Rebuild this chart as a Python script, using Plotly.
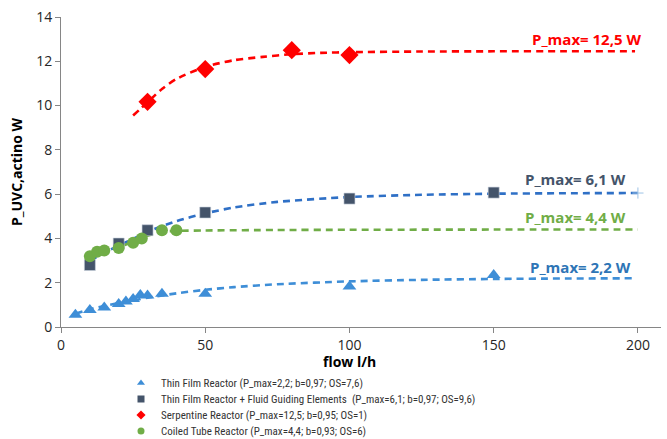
import plotly.graph_objects as go

# ---- measured data ----
thin_x = [5, 10, 15, 20, 22.5, 25, 27.5, 30, 35, 50, 100, 150]
thin_y = [0.55, 0.77, 0.88, 1.04, 1.15, 1.27, 1.45, 1.42, 1.5, 1.5, 1.83, 2.35]

fge_x = [10, 20, 30, 50, 100, 150]
fge_y = [2.8, 3.77, 4.37, 5.17, 5.8, 6.07]

serp_x = [30, 50, 80, 100]
serp_y = [10.17, 11.65, 12.5, 12.28]

coil_x = [10, 12.5, 15, 20, 25, 28, 35, 40]
coil_y = [3.2, 3.4, 3.45, 3.57, 3.8, 4.0, 4.37, 4.37]

# trend lines
thin_fit_x = [5, 10, 15, 20, 25, 30, 40, 50, 60, 75, 100, 125, 150, 175, 198]
thin_fit_y = [0.6, 0.8, 0.95, 1.08, 1.2, 1.32, 1.52, 1.68, 1.8, 1.93, 2.06, 2.13, 2.17, 2.19, 2.2]

fge_fit_x = [10, 15, 20, 25, 30, 40, 50, 60, 75, 100, 125, 150, 175, 200]
fge_fit_y = [3.0, 3.35, 3.68, 3.98, 4.3, 4.78, 5.13, 5.4, 5.65, 5.87, 5.97, 6.02, 6.04, 6.05]

serp_fit_x = [25, 30, 35, 40, 50, 60, 70, 80, 90, 100, 125, 150, 175, 199]
serp_fit_y = [9.55, 10.15, 10.75, 11.2, 11.75, 12.05, 12.2, 12.32, 12.38, 12.41, 12.44, 12.45, 12.45, 12.45]

coil_fit_x = [10, 15, 20, 25, 30, 35, 40, 50, 75, 100, 150, 200]
coil_fit_y = [3.2, 3.42, 3.6, 3.85, 4.12, 4.3, 4.34, 4.36, 4.38, 4.39, 4.4, 4.4]

names = [
    "Thin Film Reactor (P_max=2,2; b=0,97; OS=7,6)",
    "Thin Film Reactor + Fluid Guiding Elements  (P_max=6,1; b=0,97; OS=9,6)",
    "Serpentine Reactor (P_max=12,5; b=0,95; OS=1)",
    "Coiled Tube Reactor (P_max=4,4; b=0,93; OS=6)",
]
label_texts = ["P_max= 2,2 W", "P_max= 6,1 W", "P_max= 12,5 W", "P_max= 4,4 W"]
label_x = [180, 178.5, 182, 178.5]
label_y = [2.72, 6.7, 13.02, 4.97]

x_ticks = [0, 50, 100, 150, 200]
y_ticks = [0, 2, 4, 6, 8, 10, 12, 14]

# ---- styles ----
c_tri = "#3E8ED7"
c_sq = "#44546A"
c_sq_line = "#2F70C6"
c_red = "#FF0000"
c_green = "#70AD47"
c_lab22 = "#2E75B6"
FONT = "Open Sans, Liberation Sans, sans-serif"
LEGFONT = "Liberation Sans Narrow, Roboto Condensed, Roboto, sans-serif"

fig = go.Figure()

dash = "7px,5px"
for fx, fy, col in [(thin_fit_x, thin_fit_y, c_tri), (fge_fit_x, fge_fit_y, c_sq_line),
                    (serp_fit_x, serp_fit_y, c_red), (coil_fit_x, coil_fit_y, c_green)]:
    fig.add_trace(go.Scatter(x=fx, y=fy, mode="lines", showlegend=False, hoverinfo="skip",
                             line=dict(color=col, width=2.6, dash=dash, shape="spline", smoothing=0.7)))

# small cross at end of the FGE trend line
fig.add_trace(go.Scatter(x=fge_fit_x[-1:], y=fge_fit_y[-1:], mode="markers", showlegend=False,
                         marker=dict(symbol="cross-thin", size=8, line=dict(color="#9DC3E6", width=1))))

series = [
    (thin_x, thin_y, "triangle-up", 12, c_tri),
    (fge_x, fge_y, "square", 11, c_sq),
    (serp_x, serp_y, "diamond", 14, c_red),
    (coil_x, coil_y, "circle", 12, c_green),
]
for (sx, sy, sym, size, col), nm in zip(series, names):
    fig.add_trace(go.Scatter(x=sx, y=sy, mode="markers", name=nm, showlegend=False,
                             marker=dict(symbol=sym, size=size, color=col,
                                         line=dict(width=0.6, color="#C8D0DC") if sym == "square" else dict(width=0))))

# legend entries: one small legend per row so rows sit 16px apart
row_px = [383, 399, 415, 431]
plot_top, plot_bottom = 17, 327
legend_ids = ["legend", "legend2", "legend3", "legend4"]
legend_layout = {}
for i, ((sx, sy, sym, size, col), nm) in enumerate(zip(series, names)):
    fig.add_trace(go.Scatter(x=[None], y=[None], mode="markers", name=nm, showlegend=True,
                             legend=legend_ids[i], marker=dict(symbol=sym, size=7, color=col)))
    legend_layout[legend_ids[i]] = dict(
        x=0.1, y=(plot_bottom - row_px[i]) / (plot_bottom - plot_top), xanchor="left", yanchor="middle",
        font=dict(family=LEGFONT, size=11, color="#333333"), bgcolor="rgba(0,0,0,0)")

label_cols = [c_lab22, c_sq, c_red, c_green]
for t, lx, ly, col in zip(label_texts, label_x, label_y, label_cols):
    fig.add_annotation(x=lx, y=ly, xref="x", yref="y", text=f"<b>{t}</b>", showarrow=False,
                       font=dict(family=FONT, size=15, color=col))

fig.add_annotation(x=100, y=0, xref="x", yref="paper", yanchor="middle", yshift=-34,
                   text="<b>flow l/h</b>", showarrow=False,
                   font=dict(family=FONT, size=14, color="#000000"))

fig.update_layout(
    width=667, height=439,
    margin=dict(l=61, r=6, t=17, b=112, autoexpand=False),
    paper_bgcolor="white", plot_bgcolor="white",
    font=dict(family=FONT, color="#222222"),
    **legend_layout,
)
fig.update_xaxes(range=[0, 208], tickvals=x_ticks, ticks="outside", ticklen=5, tickcolor="#868686",
                 showline=True, linecolor="#868686", linewidth=1, showgrid=False, zeroline=False,
                 tickfont=dict(family=FONT, size=14, color="#262626"))
fig.update_yaxes(range=[0, 14], tickvals=y_ticks, ticks="outside", ticklen=5, tickcolor="#868686",
                 showline=True, linecolor="#868686", linewidth=1, showgrid=False, zeroline=False,
                 tickfont=dict(family=FONT, size=14, color="#262626"),
                 title=dict(text="<b>P_UVC,actino W</b>", font=dict(family=FONT, size=14, color="#000000"),
                            standoff=10))

fig.write_html("out.html")
